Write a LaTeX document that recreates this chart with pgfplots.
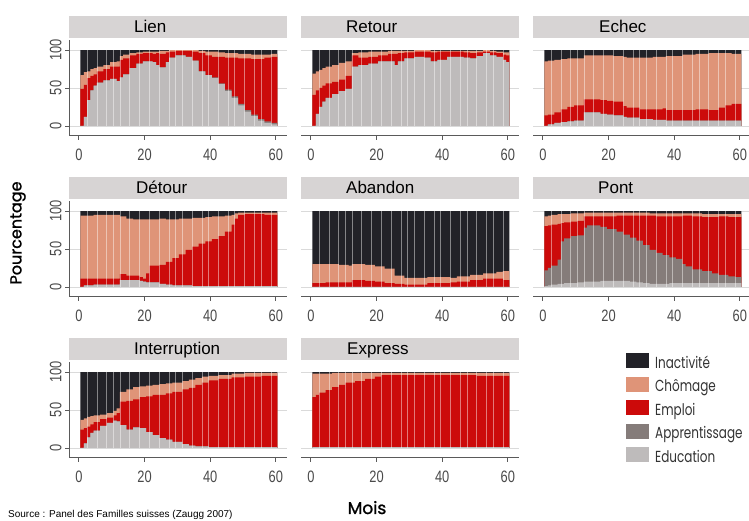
\documentclass[border=0pt]{standalone}
\usepackage{fontspec}
\setmainfont{Liberation Sans}
\newfontfamily\tickfont{Liberation Sans}[FakeStretch=0.78]
\newfontfamily\legfont{Poppins}[FakeStretch=0.75]
\newfontfamily\labfont{Poppins}[FakeBold=1.2]
\usepackage{pgfplots}
\usepackage{pgfplotstable}
\pgfplotsset{compat=1.18}
\usetikzlibrary{calc}

\definecolor{cInac}{HTML}{222228}
\definecolor{cChom}{HTML}{DF9478}
\definecolor{cEmpl}{HTML}{CC0A0A}
\definecolor{cAppr}{HTML}{857C7A}
\definecolor{cEduc}{HTML}{BEBBBB}
\definecolor{cStrip}{HTML}{D7D4D4}
\definecolor{cAxis}{HTML}{5A5A5A}
\definecolor{cGrid}{HTML}{DADADA}
\definecolor{cTick}{HTML}{4A4A4A}
\definecolor{cLeg}{HTML}{333333}

% cumulative tops: E education, A +apprentissage, M +emploi, C +chomage, T total
\pgfplotstableread{
x E A M C T
0.5 0 0 49 67 100
1.5 12 12 54 71 100
2.5 34 34 63 72 100
3.5 47 47 66 75 100
4.5 53 53 68 76 100
5.5 57 57 72 78 100
7.5 60 60 75 80 100
9.5 62 62 78 84 100
11.5 59 59 78 85 100
12.5 64 64 87 92 100
13.5 68 68 89 94 100
15.5 76 76 93 96 100
17.5 82 82 95 97 100
19.5 85 85 96 98 100
22.5 84 84 95 98 100
23.5 80 80 96 98 100
24.5 77 77 95 99 100
26.5 84 84 97 99 100
27.5 90 90 98 100 100
29.5 93 93 99 100 100
32.5 91 91 99 100 100
34.5 86 86 98 100 100
36.5 72 72 96 99 100
38.5 67 67 93 98 100
40.5 63 64 91 98 100
42.5 55 56 91 97 100
44.5 46 48 90 96 100
46.5 37 39 90 96 100
48.5 27 29 89 95 100
50.5 19 21 89 95 100
52.5 13 15 88 94 100
54.5 7 9 88 94 100
56.5 4 6 90 94 100
58.5 2 4 91 95 100
60.5 2 4 91 95 100
}\tLien

\pgfplotstableread{
x E A M C T
0.5 0 0 41 69 100
1.5 16 16 47 72 100
2.5 25 25 50 74 100
3.5 32 32 53 76 100
4.5 37 37 56 78 100
6.5 42 42 58 80 100
8.5 46 46 61 83 100
10.5 49 49 66 85 100
12.5 78 78 93 96 100
14.5 80 80 90 97 100
17.5 82 82 91 98 100
20.5 85 85 93 98 100
23.5 85 85 95 99 100
25.5 80 80 95 99 100
26.5 85 85 96 99 100
28.5 89 89 97 99 100
31.5 91 91 98 100 100
34.5 90 90 98 100 100
36.5 85 85 97 99 100
38.5 87 87 98 99 100
41.5 91 91 98 99 100
46.5 90 90 97 99 100
48.5 89 89 96 99 100
50.5 92 92 97 99 100
52.5 96 96 98 100 100
54.5 93 93 97 99 100
56.5 91 91 96 98 100
58.5 87 87 94 97 100
59.5 84 84 93 97 100
60.5 84 84 93 97 100
}\tRetour

\pgfplotstableread{
x E A M C T
0.5 0 0 14 85 100
1.5 2 2 15 86 100
3.5 4 4 18 87 100
5.5 5 5 22 88 100
7.5 6 6 25 89 100
9.5 7 7 27 89 100
12.5 18 18 35 93 100
17.5 16 16 34 93 100
19.5 15 15 33 93 100
21.5 14 14 32 92 100
24.5 12 12 26 91 100
25.5 11 11 24 90 100
29.5 9 9 22 90 100
33.5 8 8 22 91 100
36.5 8 8 23 91 100
37.5 7 7 21 92 100
42.5 7 7 21 94 100
46.5 7 7 22 95 100
50.5 7 7 21 96 100
53.5 7 7 24 96 100
55.5 7 7 27 96 100
57.5 7 7 29 95 100
60.5 7 7 29 95 100
}\tEchec

\pgfplotstableread{
x E A M C T
0.5 0 0 11 94 100
1.5 2 2 11 94 100
4.5 3 3 11 95 100
12.5 9 9 17 93 100
14.5 9 9 15 90 100
16.5 9 9 15 89 100
18.5 8 8 13 89 100
19.5 7 7 11 89 100
20.5 6 6 18 89 100
21.5 6 6 28 89 100
24.5 4 4 29 90 100
26.5 3 3 33 89 100
28.5 2 2 38 89 100
30.5 2 2 43 90 100
32.5 2 2 49 90 100
34.5 1 1 53 91 100
36.5 1 1 57 91 100
38.5 1 1 60 92 100
40.5 1 1 63 93 100
42.5 1 1 67 93 100
44.5 1 1 73 94 100
46.5 1 1 82 95 100
47.5 1 1 90 97 100
48.5 1 1 95 98 100
50.5 1 1 96 98 100
56.5 1 1 95 98 100
60.5 1 1 95 98 100
}\tDetour

\pgfplotstableread{
x E A M C T
0.5 0 0 5 30 100
4.5 0 0 6 30 100
8.5 0 0 6 29 100
11.5 0 0 6 28 100
12.5 0 0 9 30 100
16.5 0 0 8 29 100
19.5 0 0 7 27 100
22.5 0 0 5 24 100
25.5 0 0 4 15 100
28.5 0 0 3 12 100
32.5 0 0 3 12 100
35.5 0 0 5 13 100
38.5 0 0 5 13 100
42.5 0 0 6 12 100
44.5 0 0 7 14 100
48.5 0 0 9 16 100
52.5 0 0 11 18 100
56.5 0 0 11 20 100
58.5 0 0 9 21 100
60.5 0 0 9 21 100
}\tAbandon

\pgfplotstableread{
x E A M C T
0.5 1 22 80 93 100
1.5 2 25 81 94 100
2.5 3 28 82 95 100
4.5 4 36 83 96 100
5.5 4 60 84 96 100
6.5 5 64 85 96 100
8.5 5 67 86 97 100
10.5 6 68 87 97 100
12.5 7 78 93 98 100
13.5 7 81 93 98 100
17.5 8 79 93 98 100
19.5 8 76 93 98 100
22.5 8 73 94 98 100
24.5 8 69 94 98 100
26.5 7 65 94 98 100
28.5 6 61 94 98 100
30.5 5 55 94 98 100
32.5 4 49 94 97 100
34.5 4 45 93 97 100
36.5 4 42 93 97 100
38.5 5 39 93 97 100
40.5 5 37 93 97 100
42.5 5 30 94 97 100
43.5 5 27 94 97 100
45.5 5 23 93 97 100
48.5 5 21 92 96 100
51.5 5 18 92 96 100
53.5 5 16 93 96 100
56.5 5 14 92 96 100
58.5 5 13 92 96 100
60.5 5 13 92 96 100
}\tPont

\pgfplotstableread{
x E A M C T
0.5 0 0 24 37 100
1.5 6 6 26 39 100
2.5 14 14 28 41 100
3.5 20 20 31 42 100
4.5 23 23 34 43 100
6.5 29 29 38 44 100
8.5 33 33 40 46 100
10.5 36 36 43 49 100
11.5 35 35 46 52 100
12.5 30 30 61 74 100
14.5 24 24 62 77 100
16.5 27 27 64 80 100
18.5 26 26 67 81 100
20.5 21 21 68 82 100
22.5 17 17 70 83 100
24.5 13 13 70 84 100
26.5 11 11 72 85 100
28.5 8 8 74 86 100
31.5 5 5 77 88 100
33.5 3 3 79 90 100
35.5 2 2 83 92 100
37.5 2 2 86 94 100
39.5 1 1 89 95 100
42.5 1 1 91 96 100
46.5 1 1 93 98 100
50.5 1 1 94 99 100
55.5 1 1 95 99 100
60.5 1 1 95 99 100
}\tInterruption

\pgfplotstableread{
x E A M C T
0.5 1 1 67 98 100
1.5 1 1 70 98 100
2.5 1 1 73 98 100
4.5 1 1 76 98 100
6.5 1 1 80 99 100
8.5 1 1 83 99 100
10.5 1 1 86 99 100
13.5 1 1 88 99 100
16.5 1 1 91 99 100
19.5 1 1 94 99 100
21.5 1 1 96 99 100
45.5 1 1 96 99 100
50.5 1 1 95 99 100
60.5 1 1 95 99 100
}\tExpress

% thin light seams between some monthly bars
\pgfplotstableread{
x T
2.5 100
5.5 100
8.5 100
10.5 100
12.5 100
15.5 100
18.5 100
21.5 100
24.5 100
27.5 100
29.5 100
31.5 100
34.5 100
37.5 100
39.5 100
42.5 100
45.5 100
47.5 100
50.5 100
53.5 100
55.5 100
58.5 100
}\tSep

\newcommand\layers[1]{%
  \addplot[fill=cInac, draw=none, const plot] table[x=x,y=T]{#1} \closedcycle;
  \addplot[fill=cChom, draw=none, const plot] table[x=x,y=C]{#1} \closedcycle;
  \addplot[fill=cEmpl, draw=none, const plot] table[x=x,y=M]{#1} \closedcycle;
  \addplot[fill=cAppr, draw=none, const plot] table[x=x,y=A]{#1} \closedcycle;
  \addplot[fill=cEduc, draw=none, const plot] table[x=x,y=E]{#1} \closedcycle;
  \addplot[white, opacity=0.45, line width=0.6pt, ycomb, no marks, forget plot] table[x=x,y=T]{\tSep};
}

\pgfplotsset{
  panel/.style={
    scale only axis, width=218pt, height=96pt,
    xmin=-3, xmax=63.4, ymin=-13.2, ymax=113.2,
    axis x line*=bottom, axis y line*=left,
    axis line style={cAxis, line width=1pt},
    xtick={0,20,40,60},
    tick align=outside, major tick length=4pt,
    tick style={cAxis, line width=0.9pt},
    grid style={cGrid, line width=0.8pt},
    /pgf/number format/assume math mode=true,
    tick label style={font=\tickfont\fontsize{16.5}{16.5}\selectfont, text=cTick},
    xticklabel style={yshift=-5pt},
    anchor=south west,
  },
  firstcol/.style={ytick={0,50,100}, ymajorgrids,
    yticklabel style={rotate=90, anchor=south}},
  othercol/.style={ytick=\empty, y axis line style={draw=none},
    extra y ticks={0,50,100}, extra y tick labels={},
    extra y tick style={grid=major, tick style={draw=none}}},
}

\begin{document}
\begin{tikzpicture}
\useasboundingbox (0pt,0pt) rectangle (749pt,521pt);

\begin{axis}[panel, firstcol, at={(69pt,385pt)}, name=p1]
\layers{\tLien}
\end{axis}
\begin{axis}[panel, othercol, at={(301pt,385pt)}, name=p2]
\layers{\tRetour}
\end{axis}
\begin{axis}[panel, othercol, at={(533pt,385pt)}, name=p3]
\layers{\tEchec}
\end{axis}

\begin{axis}[panel, firstcol, at={(69pt,224pt)}, name=p4]
\layers{\tDetour}
\end{axis}
\begin{axis}[panel, othercol, at={(301pt,224pt)}, name=p5]
\layers{\tAbandon}
\end{axis}
\begin{axis}[panel, othercol, at={(533pt,224pt)}, name=p6]
\layers{\tPont}
\end{axis}

\begin{axis}[panel, firstcol, at={(69pt,63pt)}, name=p7]
\layers{\tInterruption}
\end{axis}
\begin{axis}[panel, othercol, at={(301pt,63pt)}, name=p8,
  legend style={at={(1.477,1.115)}, anchor=north west, draw=none, fill=none,
    font=\legfont\fontsize{16}{16}\selectfont, text=cLeg, row sep=4.5pt,
    nodes={inner sep=0pt, text height=11pt, text depth=4pt}},
  legend cell align=left,
  legend image code/.code={\fill[#1] (0pt,-3.5pt) rectangle (23pt,11.5pt); \path (29pt,0pt);}]
\layers{\tExpress}
\legend{Inactivité, Chômage, Emploi, Apprentissage, Education}
\end{axis}

\foreach \n/\t/\off in {p1/Lien/65, p2/Retour/45, p3/Echec/66, p4/Détour/67,
    p5/Abandon/45, p6/Pont/65, p7/Interruption/65, p8/Express/46} {
  \fill[cStrip] ($(\n.north west)+(0pt,2pt)$) rectangle ($(\n.north east)+(0pt,24pt)$);
  \node[anchor=base west, inner sep=0pt, font=\fontsize{17}{17}\selectfont]
    at ($(\n.north west)+(\off*1pt,7pt)$) {\t};
}

\node[rotate=90, font=\labfont\fontsize{16}{16}\selectfont] at (18pt,288pt) {Pourcentage};
\node[anchor=base, inner sep=0pt, font=\labfont\fontsize{17}{17}\selectfont] at (367pt,7pt) {Mois};
\node[anchor=base west, inner sep=0pt, font=\fontsize{10}{10}\selectfont]
  at (8pt,3pt) {Source : Panel des Familles suisses (Zaugg 2007)};
\end{tikzpicture}
\end{document}
